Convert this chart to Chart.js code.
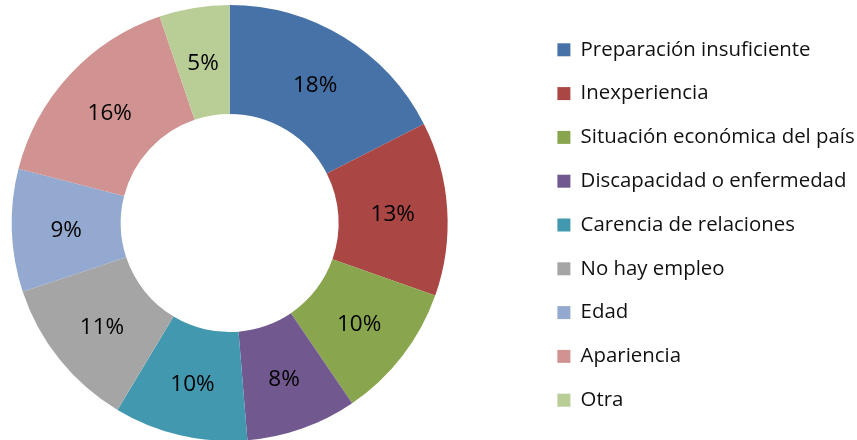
<!DOCTYPE html>
<html>
<head>
<meta charset="utf-8">
<style>
  html, body { margin: 0; background: #fff; overflow: hidden; height: 440px; }
  #wrap { width: 857px; height: 440px; overflow: hidden; }
  canvas { display: block; }
</style>
<script src="https://cdn.jsdelivr.net/npm/chart.js@4"></script>
</head>
<body>
<div id="wrap"><canvas id="pieChart" width="857" height="442"></canvas></div>
<script>
const categories = ["Preparación insuficiente", "Inexperiencia", "Situación económica del país", "Discapacidad o enfermedad", "Carencia de relaciones", "No hay empleo", "Edad", "Apariencia", "Otra"];
const shares = [17.5, 12.9, 10.1, 8.2, 9.9, 11.3, 9.1, 15.8, 5.2];
const sliceColors = ["#4672A8", "#AA4643", "#89A54E", "#71588F", "#4198AF", "#A5A5A5", "#93A9CF", "#D19392", "#B9CD96"];

// percent text in the middle of each slice
const sliceLabels = {
  id: "sliceLabels",
  afterDatasetsDraw(chart) {
    const ctx = chart.ctx;
    ctx.save();
    ctx.font = "22.5px 'Open Sans'";
    ctx.fillStyle = "#000";
    ctx.textAlign = "center";
    ctx.textBaseline = "middle";
    chart.getDatasetMeta(0).data.forEach((arc, i) => {
      const p = arc.getCenterPoint();
      ctx.fillText(Math.round(shares[i]) + "%", p.x, p.y + 2);
    });
    ctx.restore();
  }
};

// right padding keeps the ring on the left, then the legend gets pushed over
const legendPlace = {
  id: "legendPlace",
  afterLayout(chart) {
    const legend = chart.legend;
    legend.left = 534;
    legend.right = 857;
    legend.top += 2;
    legend.bottom += 2;
  }
};

new Chart(document.getElementById("pieChart"), {
  type: "doughnut",
  data: {
    labels: categories,
    datasets: [{ data: shares, backgroundColor: sliceColors, borderWidth: 0 }]
  },
  options: {
    responsive: false,
    animation: false,
    cutout: "50%",
    layout: { padding: { left: 0, top: 5, bottom: 1, right: 67 } },
    plugins: {
      tooltip: { enabled: false },
      legend: {
        position: "right",
        labels: {
          boxWidth: 13,
          boxHeight: 13,
          padding: 23.4,
          color: "#111",
          font: { family: "'Open Sans'", size: 20.4 }
        }
      }
    }
  },
  plugins: [sliceLabels, legendPlace]
});
</script>
</body>
</html>
